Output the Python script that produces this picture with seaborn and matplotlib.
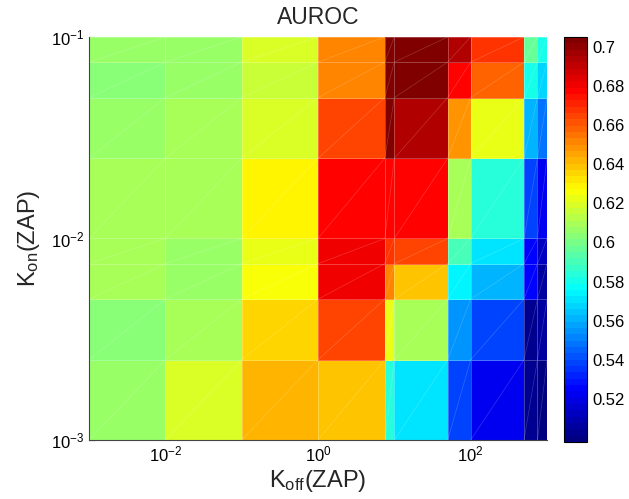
import numpy as np
import matplotlib
matplotlib.use("Agg")
import matplotlib.pyplot as plt
from matplotlib.colors import LinearSegmentedColormap
import seaborn as sns

# cell edges (log-spaced axes)
koff_edges = [1e-3, 1e-2, 1e-1, 1, 7.5, 10, 50, 100, 500, 750, 1000]
kon_edges = [1e-3, 2.5e-3, 5e-3, 7.5e-3, 1e-2, 2.5e-2, 5e-2, 7.5e-2, 1e-1]

# AUROC per cell, rows from bottom (small K_on) to top
row_1 = [0.606, 0.618, 0.643, 0.640, 0.585, 0.572, 0.537, 0.521, 0.504, 0.498]
row_2 = [0.6025, 0.608, 0.634, 0.663, 0.624, 0.608, 0.553, 0.539, 0.504, 0.507]
row_3 = [0.611, 0.606, 0.627, 0.680, 0.653, 0.640, 0.575, 0.560, 0.524, 0.506]
row_4 = [0.611, 0.606, 0.624, 0.682, 0.669, 0.663, 0.589, 0.572, 0.524, 0.514]
row_5 = [0.608, 0.611, 0.628, 0.676, 0.676, 0.676, 0.608, 0.585, 0.539, 0.521]
row_6 = [0.606, 0.610, 0.620, 0.663, 0.705, 0.695, 0.650, 0.621, 0.560, 0.547]
row_7 = [0.6025, 0.606, 0.616, 0.653, 0.705, 0.705, 0.676, 0.659, 0.582, 0.569]
row_8 = [0.606, 0.606, 0.618, 0.653, 0.705, 0.705, 0.695, 0.669, 0.598, 0.579]

auroc = np.array([row_1, row_2, row_3, row_4, row_5, row_6, row_7, row_8])

sns.set_theme(style="white")
plt.rcParams['font.family'] = ['Liberation Sans', 'DejaVu Sans']
plt.rcParams['mathtext.fontset'] = 'custom'
plt.rcParams['mathtext.rm'] = 'Liberation Sans'
plt.rcParams['mathtext.it'] = 'Liberation Sans'

# MATLAB style jet, 64 steps
matlab_jet = {
    'red':   [(0, 0, 0), (3/8, 0, 0), (5/8, 1, 1), (7/8, 1, 1), (1, 0.5, 0.5)],
    'green': [(0, 0, 0), (1/8, 0, 0), (3/8, 1, 1), (5/8, 1, 1), (7/8, 0, 0), (1, 0, 0)],
    'blue':  [(0, 0.5, 0.5), (1/8, 1, 1), (3/8, 1, 1), (5/8, 0, 0), (1, 0, 0)],
}
jet = LinearSegmentedColormap('matlab_jet', matlab_jet, N=64)

fig = plt.figure(figsize=(6.29, 4.99), dpi=100)
ax = fig.add_axes([0.1415, 0.1182, 0.7281, 0.8077])
cax = fig.add_axes([0.8967, 0.1142, 0.0366, 0.8117])

mesh = ax.pcolormesh(koff_edges, kon_edges, auroc, cmap=jet, vmin=0.498, vmax=0.705,
                     edgecolors=(1, 1, 1, 0.25), linewidth=0.5)

# faint diagonals like the triangulated patches
for i in range(len(kon_edges) - 1):
    for j in range(len(koff_edges) - 1):
        ax.plot([koff_edges[j], koff_edges[j + 1]], [kon_edges[i], kon_edges[i + 1]],
                color=(1, 1, 1, 0.2), lw=0.5)

ax.set_xscale('log')
ax.set_yscale('log')
ax.set_xlim(1e-3, 1e3)
ax.set_ylim(1e-3, 1e-1)
ax.set_xticks([1e-2, 1, 1e2])
ax.set_yticks([1e-3, 1e-2, 1e-1])
ax.minorticks_off()
ax.tick_params(direction='in', length=4, width=0.8, labelsize=12, colors='black',
               top=False, right=False, bottom=True, left=True)
for s in ax.spines.values():
    s.set_color('#444444')
    s.set_linewidth(0.8)
ax.spines['top'].set_visible(False)
ax.spines['right'].set_visible(False)

ax.set_title('AUROC', fontsize=16.5, pad=9)
ax.set_xlabel(r'K$_{\mathregular{off}}$(ZAP)', fontsize=17, labelpad=2)
ax.set_ylabel(r'K$_{\mathregular{on}}$(ZAP)', fontsize=17, labelpad=6)

cb = fig.colorbar(mesh, cax=cax)
cb.set_ticks([0.52, 0.54, 0.56, 0.58, 0.60, 0.62, 0.64, 0.66, 0.68, 0.70])
cb.set_ticklabels(['0.52', '0.54', '0.56', '0.58', '0.6', '0.62', '0.64', '0.66', '0.68', '0.7'])
cb.ax.tick_params(direction='in', length=4, width=0.8, labelsize=12, colors='black')
cb.outline.set_edgecolor('black')
cb.outline.set_linewidth(0.8)

fig.savefig('out.png', dpi=100)
